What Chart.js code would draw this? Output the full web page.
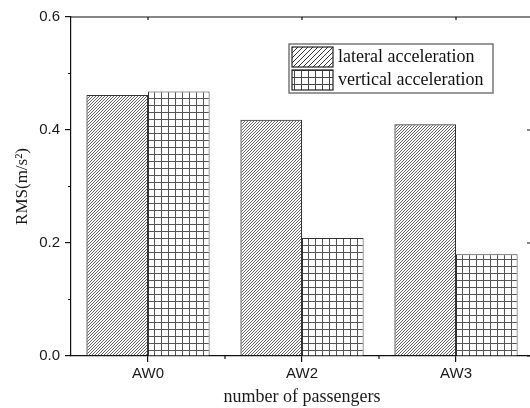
<!DOCTYPE html>
<html>
<head>
<meta charset="utf-8">
<script src="https://cdn.jsdelivr.net/npm/chart.js@4/dist/chart.umd.min.js"></script>
<style>
  html, body { margin: 0; padding: 0; background: #fff; overflow: hidden; width: 530px; height: 408px; }
  #wrap { width: 540px; height: 408px; }
</style>
</head>
<body>
<div id="wrap"><canvas id="c" width="540" height="408"></canvas></div>
<script>
const categories = ['AW0', 'AW2', 'AW3'];
const lateralValues = [0.462, 0.418, 0.410];
const verticalValues = [0.468, 0.209, 0.180];
const seriesNames = ['lateral acceleration', 'vertical acceleration'];
const yTicks = [0.0, 0.2, 0.4, 0.6];
const yMinorTicks = [0.1, 0.3, 0.5];

function hatchPattern(size, color, lw) {
  const p = document.createElement('canvas');
  p.width = size; p.height = size;
  const g = p.getContext('2d');
  g.strokeStyle = color; g.lineWidth = lw;
  g.beginPath();
  g.moveTo(-1, size + 1); g.lineTo(size + 1, -1);
  g.moveTo(-1, 1); g.lineTo(1, -1);
  g.moveTo(size - 1, size + 1); g.lineTo(size + 1, size - 1);
  g.stroke();
  return g.createPattern(p, 'repeat');
}
function gridPattern(size, color) {
  const p = document.createElement('canvas');
  p.width = size; p.height = size;
  const g = p.getContext('2d');
  g.fillStyle = '#fff'; g.fillRect(0, 0, size, size);
  g.fillStyle = color;
  g.fillRect(0, 0, size, 1);
  g.fillRect(0, 0, 1, size);
  return g.createPattern(p, 'repeat');
}
const ctx0 = document.getElementById('c').getContext('2d');
const latFill = hatchPattern(3, '#555', 0.9);
const vertFill = gridPattern(7, '#555');
const latLegendFill = hatchPattern(5, '#333', 1);
const vertLegendFill = gridPattern(7, '#444');

const framePlugin = {
  id: 'frame',
  afterDraw(chart) {
    const {ctx, chartArea: a, scales: {x, y}} = chart;
    ctx.save();
    ctx.strokeStyle = '#111';
    ctx.lineWidth = 1.2;
    ctx.beginPath();
    ctx.moveTo(a.left, a.top); ctx.lineTo(a.right, a.top);
    ctx.moveTo(a.right, a.top); ctx.lineTo(a.right, a.bottom);
    yMinorTicks.forEach(v => { const py = y.getPixelForValue(v); ctx.moveTo(a.left - 3, py); ctx.lineTo(a.left, py); });
    yTicks.forEach(v => { const py = y.getPixelForValue(v); ctx.moveTo(a.right - 6, py); ctx.lineTo(a.right, py); });
    yMinorTicks.forEach(v => { const py = y.getPixelForValue(v); ctx.moveTo(a.right - 3, py); ctx.lineTo(a.right, py); });
    for (let i = 0; i < categories.length - 1; i++) {
      const px = (x.getPixelForValue(i) + x.getPixelForValue(i + 1)) / 2;
      ctx.moveTo(px, a.bottom); ctx.lineTo(px, a.bottom + 3);
    }
    categories.forEach((c, i) => { const px = x.getPixelForValue(i); ctx.moveTo(px, a.top); ctx.lineTo(px, a.top + 3); });
    ctx.stroke();

    // legend
    const lx = 289, ly = 44, lw = 204, lh = 49;
    ctx.fillStyle = '#fff';
    ctx.fillRect(lx, ly, lw, lh);
    ctx.strokeStyle = '#777';
    ctx.lineWidth = 1.5;
    ctx.strokeRect(lx, ly, lw, lh);
    const fills = [latLegendFill, vertLegendFill];
    const rows = [47, 70];
    chart.data.datasets.forEach((ds, i) => {
      const sy = rows[i];
      ctx.fillStyle = '#fff';
      ctx.fillRect(292, sy, 41, 20);
      ctx.fillStyle = fills[i];
      ctx.fillRect(292, sy, 41, 20);
      ctx.strokeStyle = '#222';
      ctx.lineWidth = 1.2;
      ctx.strokeRect(292, sy, 41, 20);
      ctx.fillStyle = '#111';
      ctx.font = '18px "Liberation Serif", "Times New Roman", serif';
      ctx.textBaseline = 'middle';
      ctx.textAlign = 'left';
      ctx.fillText(ds.label, 338, sy + 10);
    });
    ctx.restore();
  }
};

Chart.defaults.color = '#1a1a1a';

new Chart(ctx0, {
  type: 'bar',
  data: {
    labels: categories,
    datasets: [
      { label: seriesNames[0], data: lateralValues, backgroundColor: latFill, borderColor: '#333', borderWidth: 1 },
      { label: seriesNames[1], data: verticalValues, backgroundColor: vertFill, borderColor: '#333', borderWidth: 1 }
    ]
  },
  options: {
    responsive: false,
    animation: false,
    devicePixelRatio: 1,
    layout: { padding: { left: 0, top: 17, right: 7, bottom: 0 } },
    plugins: { legend: { display: false }, tooltip: { enabled: false } },
    datasets: { bar: { categoryPercentage: 0.8, barPercentage: 1.0 } },
    scales: {
      x: {
        offset: true,
        grid: { offset: false, drawOnChartArea: false, tickLength: 6, color: '#111', lineWidth: 1.2 },
        border: { display: true, color: '#111', width: 1.2 },
        ticks: { font: { family: '"Liberation Sans", Arial, sans-serif', size: 15 }, padding: 3, color: '#1a1a1a' },
        title: { display: true, text: 'number of passengers', font: { family: '"Liberation Serif", "Times New Roman", serif', size: 18 }, padding: { top: 0, bottom: 0 }, color: '#1a1a1a' },
        afterFit(scale) { scale.height = 52; }
      },
      y: {
        min: 0, max: 0.6,
        afterBuildTicks(scale) { scale.ticks = yTicks.map(v => ({ value: v })); },
        grid: { drawOnChartArea: false, tickLength: 6, color: '#111', lineWidth: 1.2 },
        border: { display: true, color: '#111', width: 1.2 },
        ticks: { font: { family: '"Liberation Sans", Arial, sans-serif', size: 15 }, padding: 5, color: '#1a1a1a', callback: v => Number(v).toFixed(1) },
        title: { display: true, text: 'RMS(m/s²)', font: { family: '"Liberation Serif", "Times New Roman", serif', size: 17 }, padding: { top: 12, bottom: 0 }, color: '#1a1a1a' },
        afterFit(scale) { scale.width = 71; }
      }
    }
  },
  plugins: [framePlugin]
});
</script>
</body>
</html>
